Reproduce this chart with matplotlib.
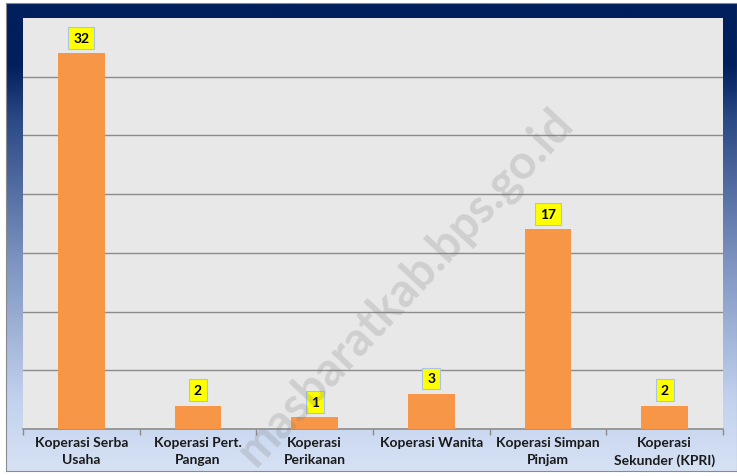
import matplotlib.pyplot as plt
import numpy as np
from matplotlib.colors import LinearSegmentedColormap

# Data
categories = ['Koperasi Serba\nUsaha', 'Koperasi Pert.\nPangan', 'Koperasi\nPerikanan',
              'Koperasi Wanita', 'Koperasi Simpan\nPinjam', 'Koperasi\nSekunder (KPRI)']
values = [32, 2, 1, 3, 17, 2]

plt.rcParams['font.family'] = ['Lato', 'DejaVu Sans']

fig = plt.figure(figsize=(7.37, 4.77), dpi=100)
fig.patch.set_facecolor('white')

# Frame with vertical navy -> light blue gradient
bg = fig.add_axes([6 / 737, 5 / 477, 731 / 737, 468 / 477])
frame_cmap = LinearSegmentedColormap.from_list(
    'frame', [(0.0, '#d6e1f4'), (0.15, '#c2d2ee'), (0.45, '#7d93c0'),
              (0.75, '#2c4a86'), (0.87, '#001f5c'), (1.0, '#001f5c')])
grad = np.linspace(0, 1, 256).reshape(-1, 1)
bg.imshow(grad, aspect='auto', cmap=frame_cmap, origin='lower', extent=[0, 1, 0, 1])
bg.set_xticks([])
bg.set_yticks([])
for s in bg.spines.values():
    s.set_color('#8a8a8a')
    s.set_linewidth(0.8)

# Chart area
ax = fig.add_axes([23 / 737, 47 / 477, 700 / 737, 411 / 477])
ax.set_facecolor('#e8e8e8')
x = np.arange(len(categories))
ax.bar(x, values, width=0.4, color='#f79646', zorder=3)

ax.set_xlim(-0.5, len(categories) - 0.5)
ax.set_ylim(0, 35)
ax.set_yticks(np.arange(5, 35, 5))
ax.yaxis.grid(True, color='#8c8c8c', linewidth=1.0, zorder=1)
ax.tick_params(axis='y', length=0, labelleft=False)

ax.set_xticks(x)
ax.set_xticklabels(categories, fontsize=10, fontweight='bold', color='#1a1a1a', linespacing=1.5)
ax.set_xticks(np.arange(-0.5, len(categories), 1), minor=True)
ax.tick_params(axis='x', which='major', length=0, pad=5)
ax.tick_params(axis='x', which='minor', length=4, color='#8c8c8c', width=1)

for side in ['top', 'right', 'left']:
    ax.spines[side].set_visible(False)
ax.spines['bottom'].set_color('#8c8c8c')
ax.spines['bottom'].set_linewidth(1.2)

for xi, v in zip(x, values):
    ax.annotate(str(v), (xi, v), xytext=(0, 11), textcoords='offset points',
                ha='center', va='center', fontsize=10, fontweight='bold', color='black',
                bbox=dict(boxstyle='square,pad=0.35', facecolor='#ffff00',
                          edgecolor='#a9c4e4', linewidth=0.8), zorder=5)

# watermark
fig.text(405 / 737, 1 - 287 / 477, 'masbaratkab.bps.go.id', rotation=47,
         ha='center', va='center', fontsize=34, fontweight='bold',
         color='#777777', alpha=0.22, zorder=10)

fig.savefig('out.png', dpi=100)
